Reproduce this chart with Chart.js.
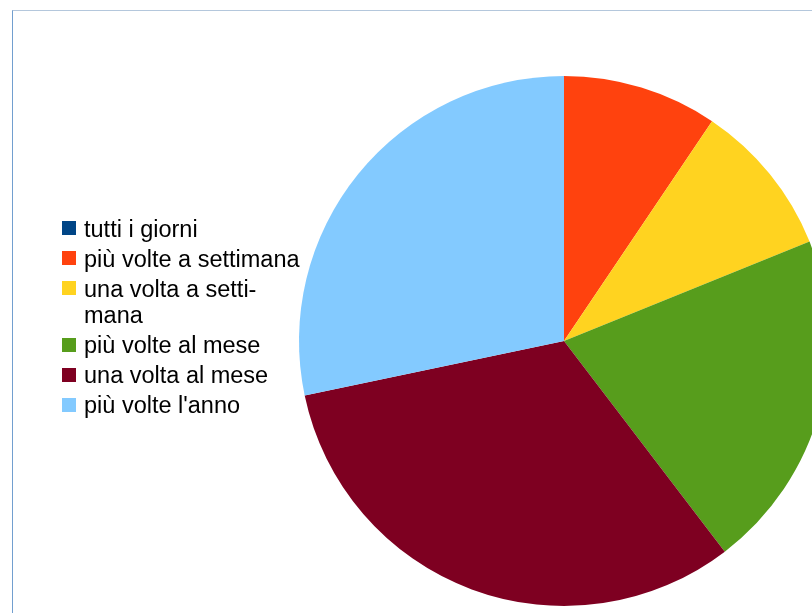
<!DOCTYPE html>
<html>
<head>
<meta charset="utf-8">
<script src="https://cdn.jsdelivr.net/npm/chart.js@4.4.1/dist/chart.umd.min.js"></script>
<style>
  html, body { margin: 0; padding: 0; background: #ffffff; width: 812px; height: 613px; overflow: hidden; position: relative; }
  #frame { position: absolute; left: 12px; top: 10px; width: 900px; height: 700px; border-left: 1px solid #729fcf; border-top: 1px solid #b4c7dc; box-sizing: border-box; }
  #wrap { position: absolute; left: 0; top: 0; width: 900px; height: 700px; }
  #legend { position: absolute; left: 0; top: 0; font-family: "Liberation Sans", Arial, sans-serif; font-size: 23.5px; color: #000; }
  .item { position: absolute; white-space: pre; line-height: 26.7px; }
  .sw { position: absolute; width: 14px; height: 13.5px; }
</style>
</head>
<body>
<div id="frame"></div>
<div id="wrap"><canvas id="c" width="900" height="700" style="width:900px;height:700px"></canvas></div>
<div id="legend"></div>
<script>
const categories = ['tutti i giorni', 'più volte a settimana', 'una volta a settimana', 'più volte al mese', 'una volta al mese', "più volte l'anno"];
const legendText = ['tutti i giorni', 'più volte a settimana', 'una volta a setti-\nmana', 'più volte al mese', 'una volta al mese', "più volte l'anno"];
const values = [0, 5, 5, 11, 17, 15];
const colors = ['#004586', '#ff420e', '#ffd320', '#579d1c', '#7e0021', '#83caff'];

new Chart(document.getElementById('c'), {
  type: 'pie',
  data: {
    labels: categories,
    datasets: [{ data: values, backgroundColor: colors, borderWidth: 0, hoverOffset: 0 }]
  },
  options: {
    responsive: false,
    animation: false,
    devicePixelRatio: 1,
    layout: { padding: { left: 299, top: 76, right: 71, bottom: 94 } },
    plugins: { legend: { display: false }, tooltip: { enabled: false } }
  }
});

// HTML legend built from the arrays
const legend = document.getElementById('legend');
const tops = [215.5, 245.5, 275.5, 332.2, 362.2, 392.2];
const swTops = [221, 251, 281, 338, 368, 398];
legendText.forEach((t, i) => {
  const sw = document.createElement('div');
  sw.className = 'sw';
  sw.style.left = '62px';
  sw.style.top = swTops[i] + 'px';
  sw.style.background = colors[i];
  legend.appendChild(sw);
  const d = document.createElement('div');
  d.className = 'item';
  d.style.left = '84px';
  d.style.top = tops[i] + 'px';
  d.textContent = t;
  legend.appendChild(d);
});
</script>
</body>
</html>
